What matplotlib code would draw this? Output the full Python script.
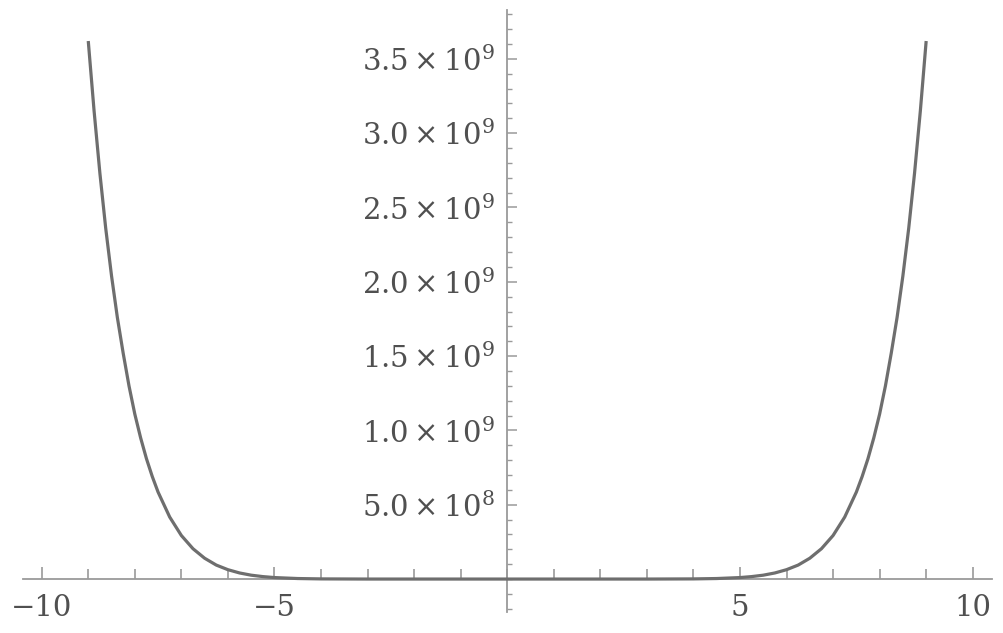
import matplotlib
matplotlib.use('Agg')
import matplotlib.pyplot as plt
import numpy as np

# values (y in units of 1e9)
x_vals = [-9.0, -8.875, -8.75, -8.625, -8.5, -8.375, -8.25, -8.125, -8.0,
          -7.875, -7.75, -7.625, -7.5, -7.25, -7.0, -6.75, -6.5, -6.25, -6.0,
          -5.75, -5.5, -5.25, -5.0, -4.5, -4.0, -3.0, 0.0,
          3.0, 4.0, 4.5, 5.0, 5.25, 5.5, 5.75, 6.0, 6.25, 6.5, 6.75, 7.0,
          7.25, 7.5, 7.625, 7.75, 7.875, 8.0, 8.125, 8.25, 8.375, 8.5,
          8.625, 8.75, 8.875, 9.0]
y_vals = [3.62, 3.15, 2.73, 2.36, 2.04, 1.76, 1.52, 1.30, 1.11,
          0.95, 0.81, 0.69, 0.585, 0.417, 0.293, 0.204, 0.140, 0.094, 0.063,
          0.041, 0.026, 0.0165, 0.010, 0.0035, 0.001, 0.0, 0.0,
          0.0, 0.001, 0.0035, 0.010, 0.0165, 0.026, 0.041, 0.063, 0.094, 0.140, 0.204, 0.293,
          0.417, 0.585, 0.69, 0.81, 0.95, 1.11, 1.30, 1.52, 1.76, 2.04,
          2.36, 2.73, 3.15, 3.62]

y_ticks = [0.5, 1.0, 1.5, 2.0, 2.5, 3.0, 3.5]
y_labels = [r'$5.0\times10^{8}$', r'$1.0\times10^{9}$', r'$1.5\times10^{9}$',
            r'$2.0\times10^{9}$', r'$2.5\times10^{9}$', r'$3.0\times10^{9}$',
            r'$3.5\times10^{9}$']
x_ticks = [-10, -5, 5, 10]
x_labels = ['\u221210', '\u22125', '5', '10']

plt.rc('font', family='DejaVu Serif', size=21)
plt.rc('mathtext', fontset='dejavuserif')

axis_col = '#9a9a9a'
text_col = '#505050'

fig = plt.figure(figsize=(10.04, 6.33), dpi=100)
ax = fig.add_axes([0, 0, 1, 1])
ax.patch.set_alpha(0)

ax.plot(np.array(x_vals), np.array(y_vals) * 1e9, color='#6e6e6e', lw=2.3,
        solid_capstyle='butt', solid_joinstyle='round', zorder=3)

# plot range chosen so the axes sit where the picture puts them
ax.set_xlim(-10.896, 10.672)
ax.set_ylim(-0.363e9, 3.896e9)

for s in ['top', 'right']:
    ax.spines[s].set_visible(False)
ax.spines['left'].set_position(('data', 0))
ax.spines['bottom'].set_position(('data', 0))
ax.spines['left'].set_bounds(-0.222e9, 3.83e9)
ax.spines['bottom'].set_bounds(-10.4, 10.41)
for s in ['left', 'bottom']:
    ax.spines[s].set_color(axis_col)
    ax.spines[s].set_linewidth(1.3)

ax.set_xticks(x_ticks)
ax.set_xticklabels(x_labels)
ax.set_xticks(np.arange(-10, 11, 1), minor=True)
ax.set_yticks(np.array(y_ticks) * 1e9)
ax.set_yticklabels(y_labels)
ax.set_yticks(np.arange(-2, 39, 1) * 1e8, minor=True)

ax.tick_params(axis='x', which='major', direction='in', length=8.5, width=1.2,
               color=axis_col, labelcolor=text_col, pad=11)
ax.tick_params(axis='x', which='minor', direction='in', length=7, width=1.2,
               color=axis_col)
ax.tick_params(axis='y', which='major', direction='in', length=7, width=1.1,
               color=axis_col, labelcolor=text_col, pad=9)
ax.tick_params(axis='y', which='minor', direction='in', length=3.5, width=1.0,
               color=axis_col)

plt.savefig('out.png', dpi=100)
